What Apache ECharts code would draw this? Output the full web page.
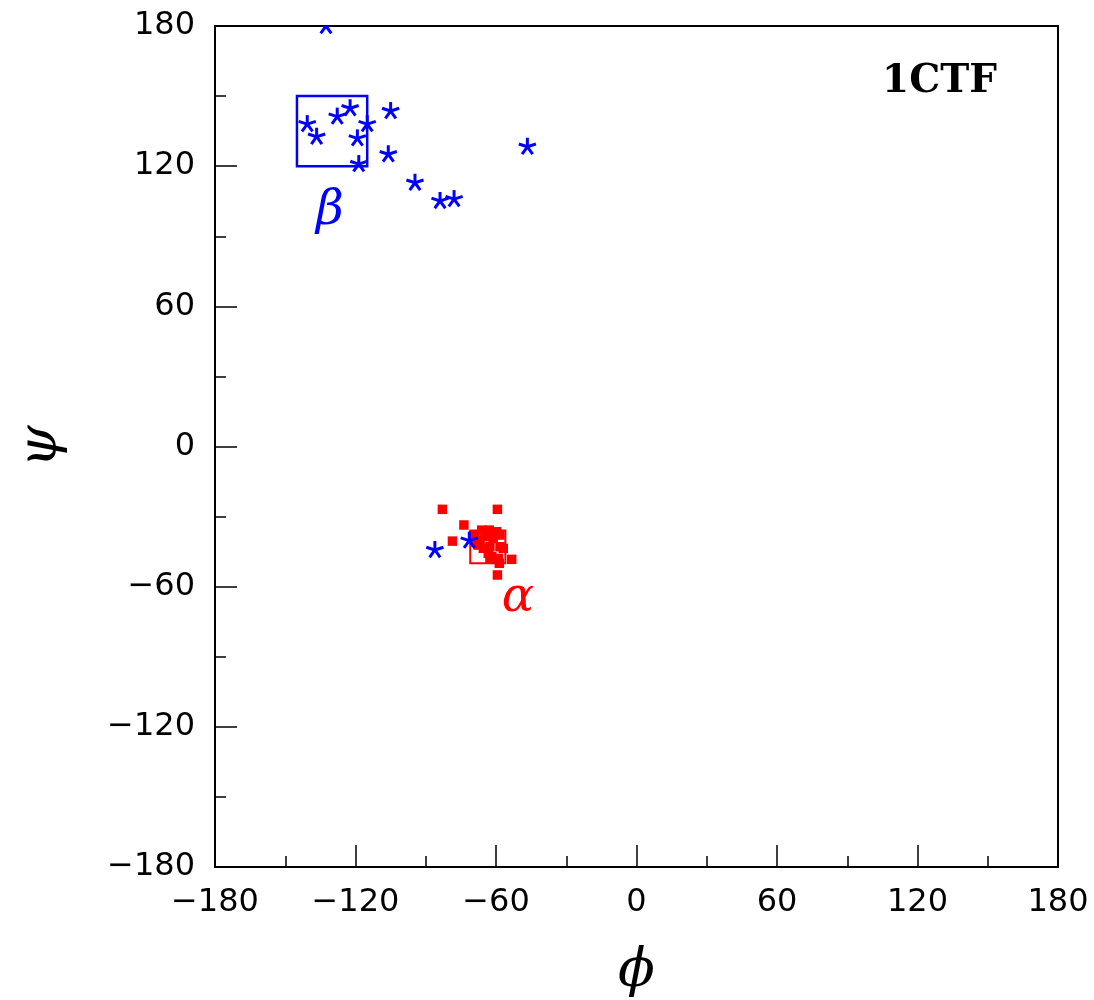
<!DOCTYPE html>
<html>
<head>
<meta charset="utf-8">
<title>1CTF Ramachandran plot</title>
<script src="https://cdn.jsdelivr.net/npm/echarts@6/dist/echarts.min.js"></script>
<style>
  html, body { margin: 0; padding: 0; background: #fff; }
  #chart { width: 1094px; height: 1000px; }
</style>
</head>
<body>
<div id="chart"></div>
<script>
// Backbone dihedral angles (phi, psi) in degrees for protein 1CTF.
const proteinName = '1CTF';

// Residues in helical conformation (red squares).
const helixResidues = [
  [-82.9, -26.9], [-59.4, -26.9], [-73.7, -33.6], [-78.6, -40.5],
  [-53.3, -48.3], [-59.4, -55.0], [-58.6, -50.0], [-62.6, -47.9],
  [-66.1, -35.8], [-62.9, -35.8], [-59.7, -36.5], [-64.7, -38.6],
  [-61.2, -39.3], [-58.3, -37.9], [-67.6, -42.2], [-65.4, -43.6],
  [-62.6, -42.9], [-58.3, -42.9], [-56.9, -43.6], [-66.8, -40.0],
  [-63.3, -45.7], [-61.8, -47.2], [-59.0, -47.9], [-69.4, -37.9],
  [-68.5, -41.0]
];

// Remaining residues (blue asterisks).
const otherResidues = [
  [-132.6, 180.0], [-140.6, 138.0], [-136.6, 132.6], [-127.8, 141.2],
  [-122.3, 144.8], [-115.0, 138.0], [-119.2, 131.9], [-118.6, 120.9],
  [-105.0, 143.6], [-106.0, 125.1], [-94.6, 112.9], [-83.9, 105.1],
  [-77.9, 105.9], [-46.6, 128.3], [-86.1, -44.3], [-71.4, -40.3]
];

// Reference regions: [phiMin, psiMin, phiMax, psiMax]
const alphaRegion = [-71, -50, -56, -36];
const betaRegion = [-145, 120, -115, 150];

// Region labels: [phi, psi]
const alphaLabelPos = [-50.6, -64.9];
const betaLabelPos = [-130.9, 100.4];

// Axis range and tick spacing
const axisMin = -180;
const axisMax = 180;
const labelStep = 60;

const BLUE = '#0000ff';
const RED = '#ff0000';
const tickFont = 'DejaVu Sans';
const greekFont = 'DejaVu Serif';

const chart = echarts.init(document.getElementById('chart'), null, { renderer: 'canvas' });

function minusLabel(v) {
  return v < 0 ? '\u2212' + Math.abs(v) : String(v);
}

function regionArea(r) {
  return [[{ coord: [r[0], r[1]] }, { coord: [r[2], r[3]] }]];
}

// Five-armed asterisk centred on the data point.
function renderAsterisk(params, api) {
  const p = api.coord([api.value(0), api.value(1)]);
  const r = 9;
  const angles = [90, 18, -54, -126, 162];
  const children = angles.map(function (a) {
    const rad = a * Math.PI / 180;
    return {
      type: 'line',
      shape: { x1: p[0], y1: p[1], x2: p[0] + r * Math.cos(rad), y2: p[1] - r * Math.sin(rad) },
      style: { stroke: BLUE, lineWidth: 3, lineCap: 'butt' }
    };
  });
  return { type: 'group', children: children };
}

const axisCommon = {
  type: 'value',
  min: axisMin,
  max: axisMax,
  interval: labelStep,
  axisLine: { show: true, onZero: false, lineStyle: { color: '#000', width: 2 } },
  axisTick: { show: true, inside: true, length: 22, lineStyle: { color: '#000', width: 1.5 } },
  minorTick: { show: true, splitNumber: 2, length: 11, lineStyle: { color: '#000', width: 1.5 } },
  splitLine: { show: false },
  axisLabel: {
    color: '#000',
    fontFamily: tickFont,
    fontSize: 32,
    formatter: minusLabel
  },
  nameTextStyle: {
    color: '#000',
    fontFamily: greekFont,
    fontStyle: 'italic',
    fontSize: 54
  },
  nameLocation: 'middle'
};

const option = {
  animation: false,
  backgroundColor: '#fff',
  title: {
    text: proteinName,
    left: 882,
    top: 62,
    padding: 0,
    textStyle: { fontFamily: 'DejaVu Serif', fontWeight: 'bold', fontSize: 39, color: '#000' }
  },
  grid: {
    left: 215,
    right: 36,
    top: 26,
    bottom: 133,
    outerBoundsMode: 'none',
    containLabel: false,
    show: true,
    borderColor: '#000',
    borderWidth: 2,
    backgroundColor: 'transparent'
  },
  xAxis: Object.assign({}, axisCommon, {
    name: '\u03d5',
    nameGap: 78,
    axisLabel: Object.assign({}, axisCommon.axisLabel, { margin: 20 })
  }),
  yAxis: Object.assign({}, axisCommon, {
    name: '\u03c8',
    nameGap: 146,
    axisLabel: Object.assign({}, axisCommon.axisLabel, { margin: 20 })
  }),
  series: [
    {
      name: 'helix',
      type: 'scatter',
      data: helixResidues,
      symbol: 'rect',
      symbolSize: 9.5,
      itemStyle: { color: RED, opacity: 1 },
      z: 3,
      markArea: {
        silent: true,
        itemStyle: { color: 'rgba(0,0,0,0)', borderColor: RED, borderWidth: 2, opacity: 1 },
        data: regionArea(alphaRegion)
      }
    },
    {
      name: 'other',
      type: 'custom',
      data: otherResidues,
      clip: true,
      renderItem: renderAsterisk,
      z: 4,
      markArea: {
        silent: true,
        itemStyle: { color: 'rgba(0,0,0,0)', borderColor: BLUE, borderWidth: 2.5, opacity: 1 },
        data: regionArea(betaRegion)
      }
    },
    {
      name: 'labels',
      type: 'scatter',
      symbolSize: 0,
      silent: true,
      z: 5,
      itemStyle: { opacity: 1 },
      data: [
        { value: alphaLabelPos, name: '\u03b1', label: { color: RED } },
        { value: betaLabelPos, name: '\u03b2', label: { color: BLUE } }
      ],
      label: {
        show: true,
        position: 'inside',
        formatter: '{b}',
        fontFamily: greekFont,
        fontStyle: 'italic',
        fontSize: 48,
        opacity: 1
      }
    }
  ]
};

chart.setOption(option);
</script>
</body>
</html>
